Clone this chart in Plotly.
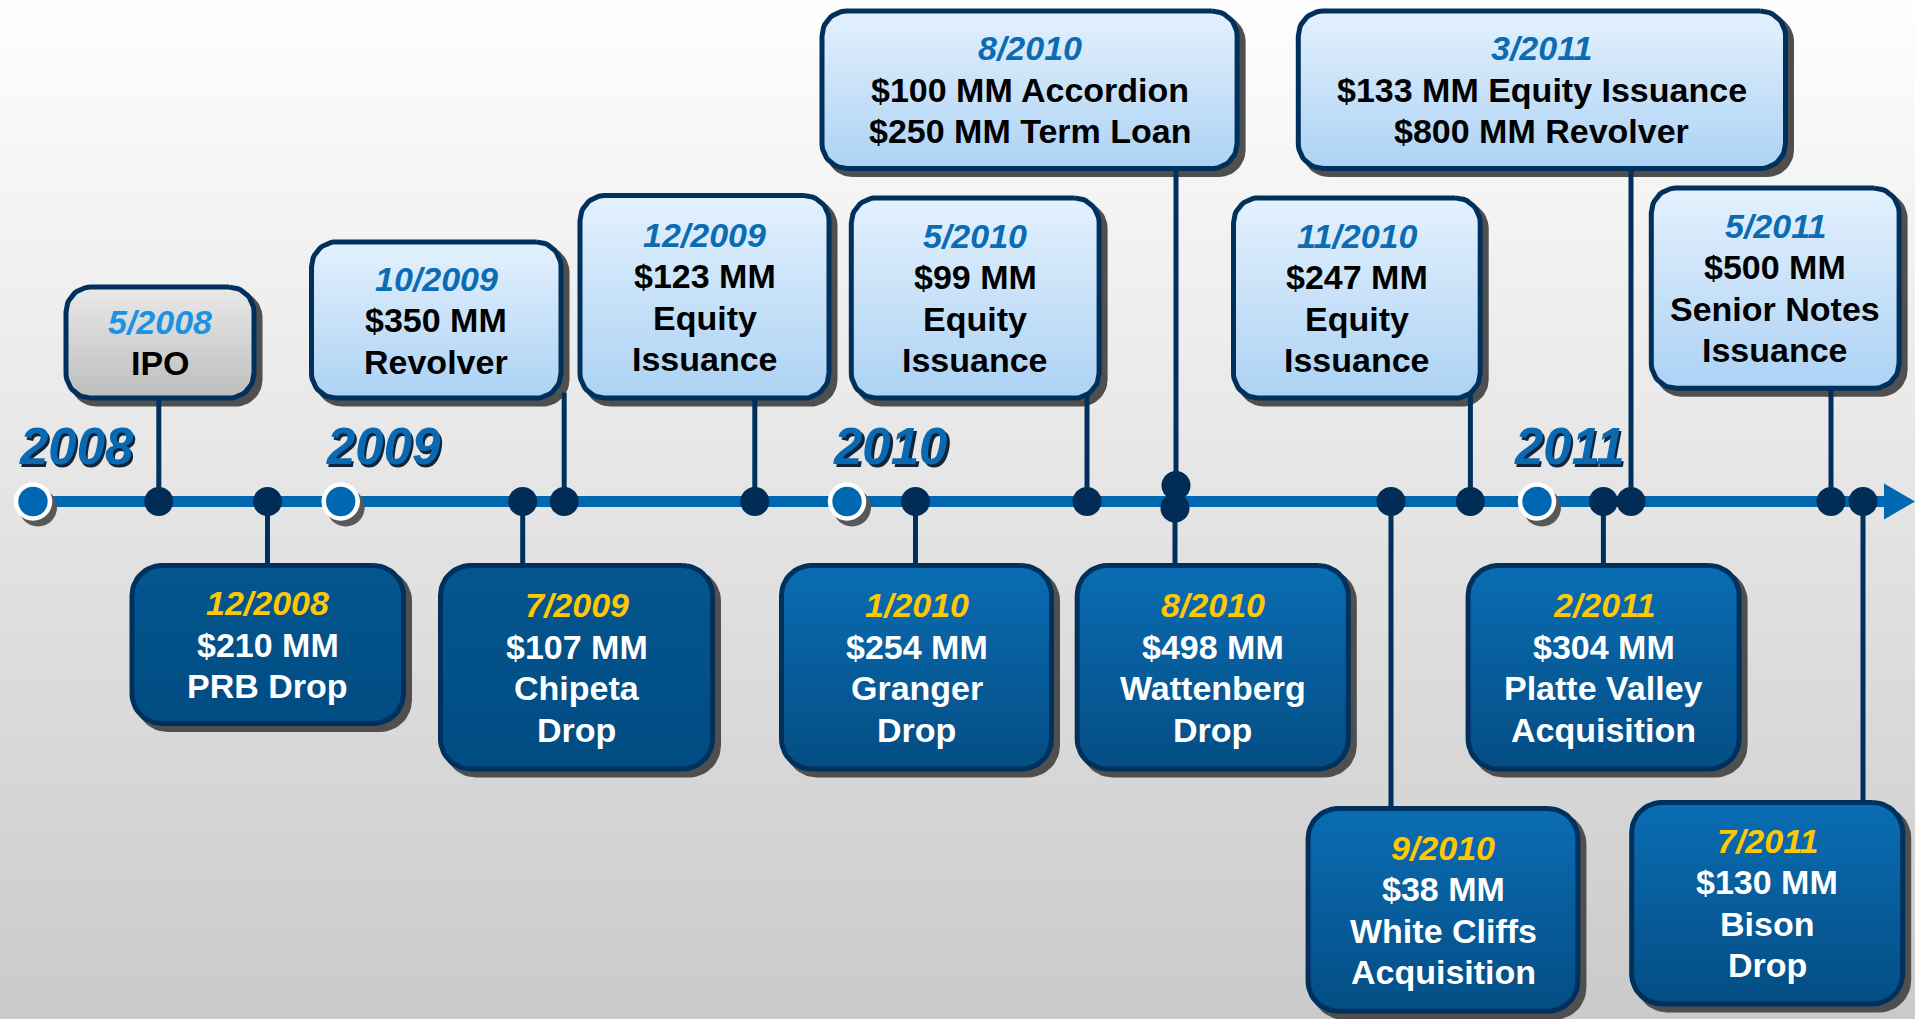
import numpy as np
import plotly.graph_objects as go

W, H = 1915, 1019
FONT = "Liberation Sans, Arial, sans-serif"
NAVY = "#00305c"
DOT = "#002c56"
BLUE = "#0068b0"

# ---------------- data ----------------
years = ["2008", "2009", "2010", "2011"]

event_dates = ["5/2008", "12/2008", "7/2009", "10/2009", "12/2009", "1/2010", "5/2010",
               "8/2010", "8/2010", "9/2010", "11/2010", "2/2011", "3/2011", "5/2011", "7/2011"]
event_lines = [
    ["IPO"],
    ["$210 MM", "PRB Drop"],
    ["$107 MM", "Chipeta", "Drop"],
    ["$350 MM", "Revolver"],
    ["$123 MM", "Equity", "Issuance"],
    ["$254 MM", "Granger", "Drop"],
    ["$99 MM", "Equity", "Issuance"],
    ["$100 MM Accordion", "$250 MM Term Loan"],
    ["$498 MM", "Wattenberg", "Drop"],
    ["$38 MM", "White Cliffs", "Acquisition"],
    ["$247 MM", "Equity", "Issuance"],
    ["$304 MM", "Platte Valley", "Acquisition"],
    ["$133 MM Equity Issuance", "$800 MM Revolver"],
    ["$500 MM", "Senior Notes", "Issuance"],
    ["$130 MM", "Bison", "Drop"],
]
event_kind = ["ipo", "drop", "drop", "financing", "financing", "drop", "financing",
              "financing", "drop", "drop", "financing", "drop", "financing", "financing", "drop"]

# ---------------- layout (pixel units of the timeline canvas) ----------------
axis_y = 501.5
year_x = [33.0, 340.7, 847.0, 1537.0]
year_label_x = [76, 383, 890, 1569]
year_label_y = 446
event_x = [158.8, 267.5, 522.7, 564.2, 754.8, 915.5, 1087.0, 1176.0, 1175.0,
           1391.0, 1470.4, 1603.4, 1631.0, 1831.0, 1863.0]
event_y = [501.5, 501.5, 501.5, 501.5, 501.5, 501.5, 501.5, 485.5, 508.0,
           501.5, 501.5, 501.5, 501.5, 501.5, 501.5]
box_x0 = [63.5, 129.5, 438.0, 309.0, 577.5, 779.0, 848.8, 819.5, 1074.7, 1305.6, 1231.0, 1465.6, 1295.8, 1648.8, 1629.2]
box_x1 = [256.5, 406.0, 715.0, 563.5, 831.5, 1054.0, 1101.6, 1239.6, 1350.8, 1580.4, 1482.7, 1741.6, 1788.0, 1901.6, 1905.2]
box_y0 = [284.6, 563.0, 563.0, 239.4, 193.0, 563.0, 195.4, 8.5, 563.0, 806.0, 195.4, 563.0, 8.5, 185.6, 800.0]
box_y1 = [400.6, 726.0, 771.5, 400.6, 400.6, 771.5, 400.6, 171.0, 771.5, 1013.7, 400.6, 771.5, 171.0, 390.8, 1006.4]

LINE_H = 41.5
SHADOW = 6


def rrect(x0, y0, x1, y1, r, n=14):
    xs, ys = [], []
    corners = [(x1 - r, y0 + r, -90, 0), (x1 - r, y1 - r, 0, 90),
               (x0 + r, y1 - r, 90, 180), (x0 + r, y0 + r, 180, 270)]
    for cx, cy, a0, a1 in corners:
        t = np.radians(np.linspace(a0, a1, n))
        xs += list(cx + r * np.cos(t))
        ys += list(cy + r * np.sin(t))
    xs.append(xs[0])
    ys.append(ys[0])
    return xs, ys


def vgrad(top, bottom):
    # gradient scale runs from the lower edge (0) to the upper edge (1) of the shape
    return [[0, bottom], [1, top]]


fig = go.Figure()

# background gradient
fig.add_trace(go.Scatter(x=[0, W, W, 0, 0], y=[0, 0, H, H, 0], mode="lines", line=dict(width=0),
                         fill="toself", fillcolor="#e6e6e6",
                         fillgradient=dict(type="vertical", colorscale=vgrad("#fefefe", "#cacaca")),
                         hoverinfo="skip", showlegend=False))

# box shadows
sx, sy = [], []
for i in range(len(event_dates)):
    r = 27 if event_kind[i] != "drop" else 32
    xs, ys = rrect(box_x0[i] + SHADOW, box_y0[i] + SHADOW, box_x1[i] + SHADOW, box_y1[i] + SHADOW, r)
    sx += xs + [None]
    sy += ys + [None]
fig.add_trace(go.Scatter(x=sx, y=sy, mode="lines", line=dict(width=0), fill="toself",
                         fillcolor="#4f4f4f", hoverinfo="skip", showlegend=False))

# connectors
cx, cy = [], []
for i in range(len(event_dates)):
    bmid = (box_y0[i] + box_y1[i]) / 2
    above = bmid < axis_y
    end = box_y1[i] - 8 if above else box_y0[i] + 8
    cx += [event_x[i], event_x[i], None]
    cy += [event_y[i], end, None]
fig.add_trace(go.Scatter(x=cx, y=cy, mode="lines", line=dict(color=NAVY, width=5),
                         hoverinfo="skip", showlegend=False))

# axis line and arrow
fig.add_trace(go.Scatter(x=[year_x[0], 1888], y=[axis_y, axis_y], mode="lines",
                         line=dict(color=BLUE, width=11), hoverinfo="skip", showlegend=False))
fig.add_trace(go.Scatter(x=[1884, 1915, 1884, 1884], y=[axis_y - 18, axis_y, axis_y + 18, axis_y - 18],
                         mode="lines", line=dict(width=0), fill="toself", fillcolor=BLUE,
                         hoverinfo="skip", showlegend=False))

# boxes
for i in range(len(event_dates)):
    k = event_kind[i]
    if k == "ipo":
        cs = vgrad("#e9e9e9", "#bdbdbd")
        r = 27
    elif k == "financing":
        cs = vgrad("#e4f1fd", "#acd2f4")
        r = 27
    else:
        if event_dates[i] in ("12/2008", "7/2009"):
            cs = vgrad("#04568f", "#004c83")
        else:
            cs = vgrad("#0a6db3", "#044d84")
        r = 32
    xs, ys = rrect(box_x0[i] + 2.5, box_y0[i] + 2.5, box_x1[i] - 2.5, box_y1[i] - 2.5, r - 2)
    fig.add_trace(go.Scatter(x=xs, y=ys, mode="lines", line=dict(color=NAVY, width=5),
                             fill="toself", fillcolor=cs[1][1],
                             fillgradient=dict(type="vertical", colorscale=cs),
                             hoverinfo="skip", showlegend=False))

# event dots
fig.add_trace(go.Scatter(x=event_x, y=event_y, mode="markers",
                         marker=dict(color=DOT, size=29, line=dict(width=0)),
                         hoverinfo="skip", showlegend=False))

# year circles
fig.add_trace(go.Scatter(x=[v + 5 for v in year_x], y=[axis_y + 6] * len(year_x), mode="markers",
                         marker=dict(color="#585858", size=38, line=dict(width=0)),
                         hoverinfo="skip", showlegend=False))
fig.add_trace(go.Scatter(x=year_x, y=[axis_y] * len(year_x), mode="markers",
                         marker=dict(color=BLUE, size=34, line=dict(color="white", width=4.5)),
                         hoverinfo="skip", showlegend=False))

annotations = []
# year labels with shadow
for yx, label in zip(year_label_x, years):
    annotations.append(dict(x=yx + 2.5, y=year_label_y + 3, text=label, showarrow=False,
                            xanchor="center", yanchor="middle",
                            font=dict(family=FONT, size=51, color="#10243a", weight="bold", style="italic")))
    annotations.append(dict(x=yx, y=year_label_y, text=label, showarrow=False,
                            xanchor="center", yanchor="middle",
                            font=dict(family=FONT, size=51, color="#0a69b0", weight="bold", style="italic")))

# box texts
for i in range(len(event_dates)):
    k = event_kind[i]
    lines = [event_dates[i]] + event_lines[i]
    n = len(lines)
    cxm = (box_x0[i] + box_x1[i]) / 2
    cym = (box_y0[i] + box_y1[i]) / 2
    if k == "ipo":
        dcol, tcol = "#1a93e3", "#000000"
    elif k == "financing":
        dcol, tcol = "#0b6cb3", "#000000"
    else:
        dcol, tcol = "#ffc800", "#ffffff"
    for j, t in enumerate(lines):
        yy = cym + (j - (n - 1) / 2) * LINE_H
        if j == 0:
            f = dict(family=FONT, size=34, color=dcol, weight="bold", style="italic")
        else:
            f = dict(family=FONT, size=34, color=tcol, weight="bold")
        annotations.append(dict(x=cxm, y=yy, text=t, showarrow=False, xanchor="center",
                                yanchor="middle", font=f))

fig.update_layout(
    width=W, height=H, margin=dict(l=0, r=0, t=0, b=0, pad=0),
    paper_bgcolor="#e6e6e6", plot_bgcolor="#e6e6e6",
    xaxis=dict(range=[0, W], visible=False, fixedrange=True),
    yaxis=dict(range=[H, 0], visible=False, fixedrange=True),
    annotations=annotations, showlegend=False,
)

fig.write_html("out.html", config={"displayModeBar": False},
               post_script="document.body.style.margin='0';document.body.style.overflow='hidden';")
